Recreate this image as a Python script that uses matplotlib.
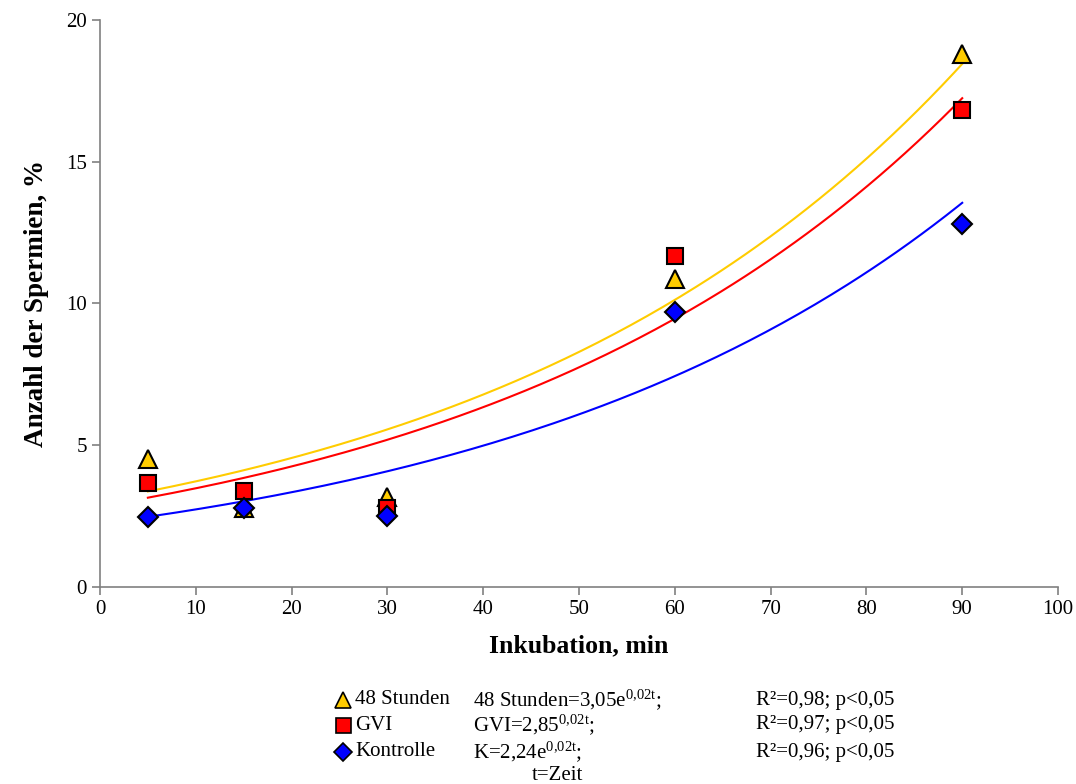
import numpy as np
import matplotlib.pyplot as plt

plt.rcParams['font.family'] = ['Liberation Serif', 'DejaVu Serif']
plt.rcParams['mathtext.fontset'] = 'custom'
plt.rcParams['mathtext.rm'] = 'Liberation Serif'
plt.rcParams['mathtext.it'] = 'Liberation Serif:italic'

# measurement times (min)
t = [5, 15, 30, 60, 90]

# observed values, %
stunden48 = [4.52, 2.80, 3.17, 10.86, 18.80]
gvi = [3.67, 3.39, 2.79, 11.68, 16.83]
kontrolle = [2.47, 2.79, 2.50, 9.70, 12.80]

# exponential trend coefficients y = a * exp(b t), as given in the legend
trend_a = [3.05, 2.85, 2.24]
trend_b = [0.02, 0.02, 0.02]

names = ['48 Stunden', 'GVI', 'Kontrolle']
colors = ['#FFCC00', '#FF0000', '#0000FF']
markers = ['^', 's', 'D']
msizes = [13, 12, 10]

fig = plt.figure(figsize=(10.76, 7.84), dpi=100)
ax = fig.add_axes([0.0929, 0.2513, 0.8904, 0.7232])

tt = np.linspace(t[0], t[-1], 200)
for a, b, c in zip(trend_a, trend_b, colors):
    ax.plot(tt, a * np.exp(b * tt), color=c, lw=1.5, zorder=2)

for ys, c, m, s in zip([stunden48, gvi, kontrolle], colors, markers, msizes):
    ax.plot(t, ys, linestyle='none', marker=m, markersize=s,
            markerfacecolor=c, markeredgecolor='black', markeredgewidth=1.5,
            zorder=3)

ax.set_xlim(0, 100)
ax.set_ylim(0, 20)
ax.set_xticks(range(0, 101, 10))
ax.set_yticks(range(0, 21, 5))
for side in ['top', 'right']:
    ax.spines[side].set_visible(False)
for side in ['left', 'bottom']:
    ax.spines[side].set_color('#808080')
    ax.spines[side].set_linewidth(1.2)
ax.tick_params(colors='#808080', labelcolor='black', labelsize=15,
               length=6, width=1.2, direction='out')
ax.set_xlabel('Inkubation, min', fontsize=18.5, fontweight='bold',
              labelpad=11)
ax.set_ylabel('Anzahl der Spermien, %', fontsize=19.5, fontweight='bold',
              labelpad=12)

# legend block below the chart
rows_y = [700, 725, 752]
eqs = [r'48 Stunden=3,05e$^{\mathrm{0{,}02t}}$;',
       r'GVI=2,85$^{\mathrm{0{,}02t}}$;',
       r'K=2,24e$^{\mathrm{0{,}02t}}$;']
r2 = ['R²=0,98; p<0,05', 'R²=0,97; p<0,05', 'R²=0,96; p<0,05']
W, H = 1076.0, 784.0
for y, n, c, m, s, e, r in zip(rows_y, names, colors, markers, msizes,
                                eqs, r2):
    fy = 1 - y / H
    fig.lines.append(plt.Line2D([343 / W], [fy], transform=fig.transFigure,
                                marker=m, markersize=s * 0.9,
                                markerfacecolor=c, markeredgecolor='black',
                                markeredgewidth=1.2, linestyle='none'))
    fig.text(355 / W, fy, n, fontsize=15, va='center', ha='left')
    fig.text(473 / W, fy, e, fontsize=15, va='center', ha='left')
    fig.text(756 / W, fy, r, fontsize=15, va='center', ha='left')
fig.text(532 / W, 1 - 775 / H, 't=Zeit', fontsize=15, va='center',
         ha='left')

fig.savefig('out.png', dpi=100)
